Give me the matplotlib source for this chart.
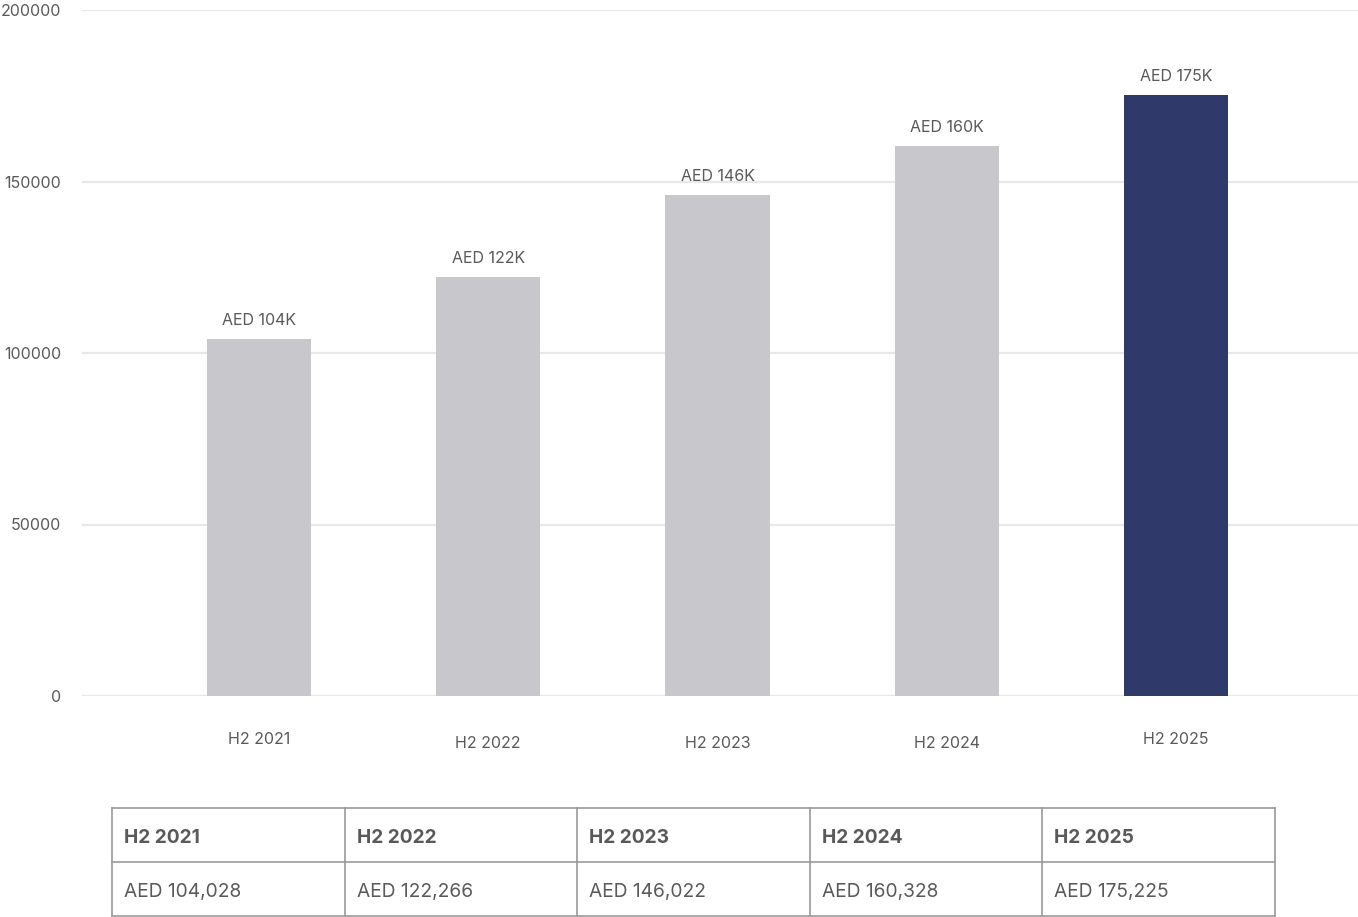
import matplotlib
matplotlib.use("Agg")
import matplotlib.pyplot as plt
from matplotlib.transforms import ScaledTranslation

plt.rcParams['font.family'] = ['Inter', 'DejaVu Sans']

categories = ["H2 2021", "H2 2022", "H2 2023", "H2 2024", "H2 2025"]
values = [104028, 122266, 146022, 160328, 175225]
bar_labels = ["AED 104K", "AED 122K", "AED 146K", "AED 160K", "AED 175K"]
table_values = ["AED 104,028", "AED 122,266", "AED 146,022", "AED 160,328", "AED 175,225"]
yticks = [0, 50000, 100000, 150000, 200000]

W, H = 1358, 917
fig = plt.figure(figsize=(W / 100, H / 100), dpi=100)
ax = fig.add_axes([82 / W, 1 - 696 / H, 1 - 82 / W, (696 - 10) / H])

text_color = "#5a5a5a"
colors = ["#c8c8cc"] * 4 + ["#2f3a6b"]
x = list(range(len(categories)))
bars = ax.bar(x, values, width=0.454, color=colors, zorder=3)
for xi, v, lab in zip(x, values, bar_labels):
    ax.annotate(lab, (xi, v), xytext=(0, 8), textcoords="offset points",
                ha="center", va="bottom", fontsize=11.5, color=text_color)

ax.set_ylim(0, 200000)
ax.set_xlim(-0.772, 4.794)
ax.set_yticks(yticks)
ax.set_yticklabels([str(t) for t in yticks])
ax.set_xticks(x)
ax.set_xticklabels(categories)
ax.tick_params(axis="y", length=0, pad=15, labelsize=11.5, labelcolor=text_color)
ax.tick_params(axis="x", length=0, pad=26, labelsize=11.5, labelcolor=text_color)
for i, lbl in enumerate(ax.get_xticklabels()):
    if i in (1, 2, 3):
        lbl.set_transform(lbl.get_transform() + ScaledTranslation(0, -4 / 100, fig.dpi_scale_trans))
ax.grid(axis="y", color="#e8e8e8", linewidth=1.6, zorder=0)
for s in ax.spines.values():
    s.set_visible(False)

# table
tl, tr, tt, tb = 112, 1275, 808, 916
tax = fig.add_axes([tl / W, 1 - tb / H, (tr - tl) / W, (tb - tt) / H])
tax.set_xlim(0, len(categories))
tax.set_ylim(0, 2)
tax.axis("off")
border = "#9a9a9a"
for yy in (0, 1, 2):
    tax.plot([0, len(categories)], [yy, yy], color=border, lw=1.2, clip_on=False)
for xx in range(len(categories) + 1):
    tax.plot([xx, xx], [0, 2], color=border, lw=1.2, clip_on=False)
for i, (c, tv) in enumerate(zip(categories, table_values)):
    tax.text(i + 0.052, 1.45, c, ha="left", va="center", fontsize=13.8,
             fontweight="bold", color=text_color)
    tax.text(i + 0.052, 0.45, tv, ha="left", va="center", fontsize=13.8,
             color=text_color)

fig.savefig("out.png", dpi=100)
